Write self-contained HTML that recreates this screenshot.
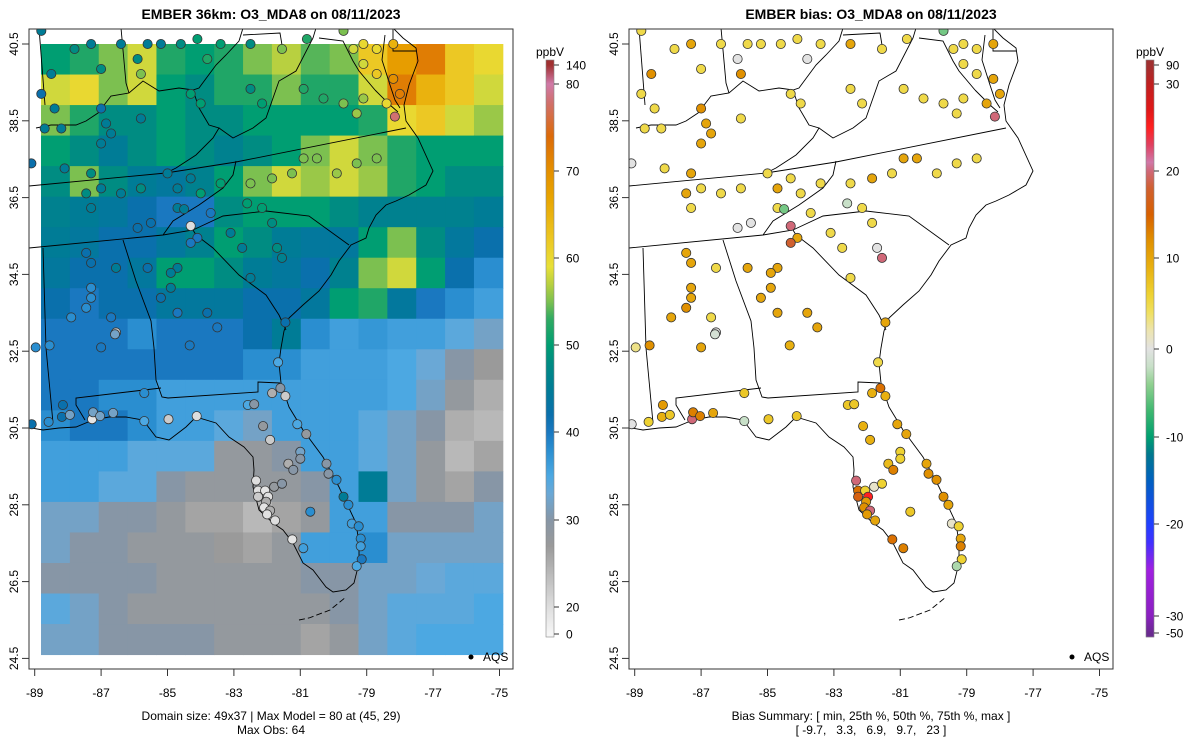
<!DOCTYPE html>
<html><head><meta charset="utf-8">
<style>
html,body{margin:0;padding:0;background:#fff;}
svg{display:block;font-family:"Liberation Sans",Arial,sans-serif;}
</style></head>
<body>
<svg id="chart" width="1200" height="750" viewBox="0 0 1200 750" xmlns="http://www.w3.org/2000/svg">
<defs>
<clipPath id="clipL"><rect x="29" y="29" width="484" height="640"/></clipPath>
<clipPath id="clipR"><rect x="629" y="29" width="484" height="640"/></clipPath>
<g id="geo" fill="none" stroke="#000" stroke-width="0.9">
<polyline points="993,28 1003,38 1016,48 1018,61 1009,85 1004,105 1006,121 1018,138 1033,171 1026,185 1009,195 996,201 986,205 976,215 969,228 966,238 951,245 939,261 931,275 919,291 903,305 889,318 884,331 881,348 879,363 881,383 889,407 903,430 923,457 939,487 956,523 959,543 959,563 954,583 946,590 933,592 926,587 913,570 903,563 893,543 883,530 873,523 859,510 853,487 854,470 853,457 844,447 829,437 816,423 796,417 786,427 769,440 756,437 743,420 726,417 709,417 693,420 676,427 659,428 643,430 626,427"/>
<polyline points="985,35 982,60 990,85 995,100 1000,108"/>
<polyline points="975,90 990,105 998,112"/>
<polyline points="899,620 909,618 930,610 946,597" stroke-dasharray="6,3"/>
<polyline points="629,186 766,173 836,162 1006,128"/>
<polyline points="629,248 763,235 793,230 823,216 866,211 909,216 949,245"/>
<polyline points="836,161 833,175 823,188 799,205 773,221 763,235"/>
<polyline points="793,230 796,235 813,248 839,275 866,295 879,315 886,330"/>
<polyline points="723,240 736,281 751,321 754,348 756,380 762,397 768,398 858,392 858,382 880,383"/>
<polyline points="685,420 676,405 676,398 761,388"/>
<polyline points="643,248 646,348 653,423"/>
<polyline points="639,28 645,105"/>
<polyline points="636,128 651,125 676,125 686,121 698,113 711,96 729,93 743,81 759,91 779,88 793,90 799,88 816,65 826,55 839,41 843,28"/>
<polyline points="721,28 726,83 729,93"/>
<polyline points="793,90 799,108 809,125 819,128 813,138 796,155 776,168 766,173"/>
<polyline points="819,128 833,138 853,128 866,118 879,81 896,71 913,38 916,28"/>
<polyline points="843,35 880,33 883,51"/>
<polyline points="919,38 943,41 953,61 959,71 975,90"/>
<polyline points="993,28 993,51 1016,51"/>
</g>
</defs>

<text x="271" y="19" text-anchor="middle" font-size="14" font-weight="bold">EMBER 36km: O3_MDA8 on 08/11/2023</text>
<text x="871" y="19" text-anchor="middle" font-size="14" font-weight="bold">EMBER bias: O3_MDA8 on 08/11/2023</text>

<g id="leftMap" clip-path="url(#clipL)"></g>
<g id="leftGeo" clip-path="url(#clipL)"><use href="#geo" transform="translate(-600,0)"/></g>
<g id="leftDots" clip-path="url(#clipL)"></g>
<rect x="29" y="29" width="484" height="640" fill="none" stroke="#333" stroke-width="1"/>

<g id="rightGeo" clip-path="url(#clipR)"><use href="#geo"/></g>
<g id="rightDots" clip-path="url(#clipR)"></g>
<rect x="629" y="29" width="484" height="640" fill="none" stroke="#333" stroke-width="1"/>

<g id="axes"></g>
<g id="bars"></g>

<circle cx="471" cy="657" r="2.5" fill="#000"/>
<text x="483" y="661" font-size="12">AQS</text>
<circle cx="1072" cy="657" r="2.5" fill="#000"/>
<text x="1084" y="661" font-size="12">AQS</text>

<text x="271" y="720" text-anchor="middle" font-size="12">Domain size: 49x37 | Max Model = 80 at (45, 29)</text>
<text x="271" y="734" text-anchor="middle" font-size="12">Max Obs: 64</text>
<text x="871" y="720" text-anchor="middle" font-size="12">Bias Summary: [ min, 25th %, 50th %, 75th %, max ]</text>
<text x="871" y="734" text-anchor="middle" font-size="12" xml:space="preserve">[ -9.7,   3.3,   6.9,   9.7,   23 ]</text>
</svg>
<script>
// ---- data ----
const gridRows = [
[50,52,55,58,52,50,52,55,57,54,55,62,68,72,62,60],
[58,60,55,58,50,48,52,52,55,52,52,58,72,65,62,58],
[55,52,48,48,50,48,48,50,50,50,50,52,60,62,58,56],
[50,48,45,48,50,48,46,48,50,55,58,55,52,50,50,50],
[48,55,48,45,44,46,50,55,58,56,58,56,52,50,48,48],
[46,45,44,42,40,40,48,50,50,50,48,46,46,46,46,45],
[45,44,42,42,44,46,50,48,45,44,44,50,55,48,44,42],
[44,42,42,44,50,50,48,45,44,42,46,55,58,50,42,38],
[42,40,42,42,44,44,44,42,42,44,50,52,44,40,38,36],
[40,40,40,38,40,40,40,42,45,38,36,37,36,36,34,32],
[40,40,40,40,40,40,40,38,38,36,36,36,35,33,30,27],
[40,40,38,38,36,36,36,36,36,36,36,36,35,32,28,25],
[38,40,40,38,36,36,34,32,36,36,36,34,32,30,25,24],
[36,36,36,34,34,34,28,28,30,36,36,34,32,28,24,26],
[36,36,34,34,30,28,28,28,28,30,36,45,32,28,26,30],
[32,32,30,30,28,26,26,24,26,28,36,36,30,30,30,32],
[32,30,30,28,28,28,27,26,28,36,36,38,32,32,32,32],
[30,30,30,30,28,28,28,28,28,30,30,32,32,33,34,34],
[34,32,30,28,28,28,28,28,28,28,30,32,34,34,34,35],
[32,32,30,30,30,30,28,28,28,26,28,32,34,35,35,35]
];
const gridLonRange = [-88.81, -74.9];
const gridLatRange = [40.5, 24.6];

const stLon = [-88.8,-87.8,-87.3,-87.0,-86.4,-85.9,-85.6,-85.8,-85.2,-84.6,-84.1,-83.8,-83.4,-82.5,-81.55,-80.8,-79.7,-79.4,-79.1,-78.7,-78.2,-79.1,-78.7,-78.2,-78.0,-78.4,-78.15,-88.5,-88.8,-88.4,-88.7,-88.2,-87.0,-86.85,-86.7,-87.0,-85.8,-84.3,-84.0,-82.5,-82.15,-80.9,-80.3,-79.7,-79.1,-79.3,
-89.1,-88.1,-87.3,-87.0,-86.4,-85.8,-85.0,-84.7,-84.3,-84.0,-83.4,-82.5,-81.85,-81.25,-80.9,-80.5,-79.9,-79.3,-78.7,-87.45,-87.3,-85.9,-85.5,-84.7,-84.5,-84.3,-84.1,-83.7,-83.1,-82.6,-82.15,-81.85,-81.7,-81.55,-82.75,-84.3,-84.7,
-87.45,-87.3,-86.55,-85.6,-84.9,-85.2,-84.9,-87.3,-87.3,-87.45,-87.9,-86.7,-86.55,-84.7,-83.8,-82.5,-81.45,-87.0,-83.5,
-80.21,-80.15,-79.91,-79.70,-79.55,-79.45,-79.24,-79.18,-79.18,-79.15,-79.3,
-80.7,-81.36,-81.21,-81.0,-81.0,-82.12,-81.91,-82.58,-82.39,-81.85,-81.6,-81.45,-81.09,-80.82,-81.67,
-82.33,-82.27,-82.27,-82.06,-81.97,-82.03,-82.09,-81.91,-82.0,-81.76,-81.79,-81.55,-81.24,-80.91,
-88.15,-88.18,-87.94,-87.27,-87.24,-87.03,-86.64,-85.7,-84.97,-84.12,-85.7,-88.58,-89.09,-88.55,-88.97,-86.58,-84.33];
const stLat = [40.84,40.37,40.5,39.85,40.5,40.11,40.5,39.72,40.5,40.5,40.63,40.11,40.5,40.5,40.37,40.63,40.84,40.37,40.5,40.37,40.5,39.98,39.72,39.59,39.2,38.95,38.61,39.72,39.2,38.82,38.3,38.3,38.82,38.43,38.17,37.91,38.56,39.2,38.95,39.33,38.95,39.33,39.08,38.95,39.08,38.69,
37.39,37.26,37.13,36.74,36.61,36.74,37.13,36.74,37.0,36.61,36.87,36.87,37.0,37.13,37.52,37.52,37.13,37.39,37.52,36.61,36.23,35.71,35.84,36.23,36.2,35.76,35.45,36.1,35.58,36.35,36.23,35.84,35.19,34.93,35.19,35.32,34.67,
35.06,34.8,34.67,34.67,34.54,33.89,34.15,34.15,33.89,33.63,33.38,33.38,32.99,33.5,33.5,34.41,33.25,32.6,33.12,
29.57,29.31,29.15,28.71,28.5,28.01,27.94,27.62,27.42,27.08,26.9,
28.32,29.57,29.41,29.88,29.7,30.55,30.19,31.1,31.12,31.41,31.54,31.33,30.6,30.34,32.21,
29.13,28.87,28.71,28.87,28.71,28.58,28.43,28.35,28.25,28.09,28.97,29.05,27.6,27.37,
31.1,30.79,30.84,30.73,30.91,30.81,30.89,30.68,30.73,30.81,31.41,30.66,30.6,32.65,32.6,32.94,32.65];
const stObs = [45,48,45,48,45,48,45,55,45,48,50,52,50,48,55,52,55,58,60,60,65,58,62,70,72,60,78,45,42,45,45,45,42,45,45,45,45,50,50,48,50,52,52,55,56,56,
42,45,48,45,45,48,45,45,45,50,50,55,55,55,55,55,56,55,55,48,45,42,42,45,45,20,40,40,45,50,50,48,48,46,45,40,45,
42,42,45,42,45,42,45,38,38,38,38,40,22,40,42,45,42,40,40,
30,30,38,45,38,36,38,38,36,40,35,
38,25,30,32,30,28,22,35,30,25,30,22,35,28,35,
20,18,22,15,18,25,15,25,18,20,28,30,15,36,
42,42,32,15,32,32,32,35,22,20,38,38,42,38,38,32,40];
const stBias = [5,5,10,5,5,0,5,12,5,5,5,0,5,10,5,5,-5,5,5,5,10,5,5,10,10,10,20,12,5,5,5,5,12,10,10,10,5,5,5,5,5,5,5,5,5,5,
0,5,10,5,5,5,5,10,5,5,5,5,10,5,10,10,5,5,5,10,5,0,0,5,-5,20,10,5,5,-2,5,5,0,20,5,18,10,
10,10,5,10,10,10,10,10,10,12,10,5,0,10,10,5,10,10,10,
10,12,12,12,10,1,6,10,13,6,-3,
7,8,13,6,6,9,9,7,7,9,14,9,10,10,5,
20,14,16,6,25,11,12,20,11,10,1,6,14,13,
11,9,7,20,13,13,10,-2,7,7,7,6,0,12,3,-1,9];

const latTicks = [24.5,26.5,28.5,30.5,32.5,34.5,36.5,38.5,40.5];
const lonTicks = [-89,-87,-85,-83,-81,-79,-77,-75];

const obsStops = [0,20,24,27,30,33,35,38,40,42,45,48,50,53,55,57,59,62,67,70,74,78,80,140];
const obsColors = ["#f6f6f6","#dedede","#b8b8b8","#9a9a9a","#8796a6","#6aa8d6","#4ca8e2","#2a8ed0","#1a78c0","#0a70ac","#007c96","#008c82","#009e72","#30aa62","#7cc050","#b8d040","#e8e038","#ecc824","#e8a400","#e49000","#dc6a08","#d07070","#d07aa8","#a03030"];
const biasStops = [-50,-30,-25,-22,-20,-15,-12,-10,-7,-4,-2,0,2,4,6,9,12,15,18,20,21,23,25,27,30,90];
const biasColors = ["#6a2a90","#8a20c0","#a020e0","#4030ff","#2040ff","#0060c0","#00788e","#00a070","#40b870","#90d090","#c8e0c8","#e2e2e2","#ece4b0","#f0e060","#eed232","#e8b010","#e09000","#d86000","#d06030","#d06878","#d078a8","#e04060","#ff2020","#e01818","#c02020","#a03030"];

const obsBarVals = [0,20,30,40,50,60,70,80,140];
const obsBarLabels = ["0","20","30","40","50","60","70","80","140"];
const biasBarVals = [-50,-30,-20,-10,0,10,20,30,90];
const biasBarLabels = ["-50","-30","-20","-10","0","10","20","30","90"];

// ---- scales ----
const NS = "http://www.w3.org/2000/svg";
function lonX(lon, off){ return off + 34.7 + (lon + 89) * 33.2; }
function latY(lat){ return 44 + (40.5 - lat) * 38.4; }
function hex2rgb(h){ return [parseInt(h.substr(1,2),16),parseInt(h.substr(3,2),16),parseInt(h.substr(5,2),16)]; }
function colorFor(v, stops, cols){
  if (v <= stops[0]) return cols[0];
  for (let i=1;i<stops.length;i++){
    if (v <= stops[i]){
      const t=(v-stops[i-1])/(stops[i]-stops[i-1]);
      const a=hex2rgb(cols[i-1]), b=hex2rgb(cols[i]);
      return "rgb("+a.map((c,k)=>Math.round(c+(b[k]-c)*t)).join(",")+")";
    }
  }
  return cols[cols.length-1];
}
// colorbar position scale: piecewise between tick values
function barScale(vals, ys){
  return function(v){
    if (v<=vals[0]) return ys[0];
    for (let i=1;i<vals.length;i++) if (v<=vals[i]) return ys[i-1]+(v-vals[i-1])/(vals[i]-vals[i-1])*(ys[i]-ys[i-1]);
    return ys[ys.length-1];
  };
}
const obsBarY = barScale(obsBarVals,[634,607,520,432,345,258,171,84,65]);
const biasBarY = barScale(biasBarVals,[633,616,524,437,349,258,171,84,65]);

function mk(tag, attrs, parent){
  const e=document.createElementNS(NS,tag);
  for (const k in attrs) e.setAttribute(k, attrs[k]);
  parent.appendChild(e); return e;
}

// ---- heatmap ----
const leftMap=document.getElementById("leftMap");
const nR=gridRows.length, nC=gridRows[0].length;
const dLon=(gridLonRange[1]-gridLonRange[0])/nC, dLat=(gridLatRange[0]-gridLatRange[1])/nR;
for (let r=0;r<nR;r++) for (let c=0;c<nC;c++){
  const x0=lonX(gridLonRange[0]+c*dLon,0), x1=lonX(gridLonRange[0]+(c+1)*dLon,0);
  const y0=latY(gridLatRange[0]-r*dLat), y1=latY(gridLatRange[0]-(r+1)*dLat);
  const cell=mk("rect",{x:x0.toFixed(2),y:y0.toFixed(2),width:(x1-x0+0.5).toFixed(2),height:(y1-y0+0.5).toFixed(2),fill:colorFor(gridRows[r][c],obsStops,obsColors)},leftMap);
  
  
}

// ---- stations ----
const leftDots=document.getElementById("leftDots"), rightDots=document.getElementById("rightDots");
for (let i=0;i<stLon.length;i++){
  const y=latY(stLat[i]);
  const a=mk("circle",{cx:lonX(stLon[i],0).toFixed(1),cy:y.toFixed(1),r:4.6,fill:colorFor(stObs[i],obsStops,obsColors),stroke:"#333","stroke-width":0.8},leftDots);
  
  
  const b=mk("circle",{cx:lonX(stLon[i],600).toFixed(1),cy:y.toFixed(1),r:4.6,fill:colorFor(stBias[i],biasStops,biasColors),stroke:"#333","stroke-width":0.8},rightDots);
  
  
}

// ---- axes ----
const axes=document.getElementById("axes");
[0,600].forEach(off=>{
  const bx=29+off;
  mk("line",{x1:lonX(lonTicks[0],off),x2:lonX(lonTicks[lonTicks.length-1],off),y1:669,y2:669,stroke:"#333"},axes);
  lonTicks.forEach(v=>{
    const x=lonX(v,off);
    mk("line",{x1:x,x2:x,y1:669,y2:676,stroke:"#333"},axes);
    const t=mk("text",{x:x,y:697,"text-anchor":"middle","font-size":12},axes);
    t.textContent=String(v);
    
    
  });
  latTicks.forEach(v=>{
    const y=latY(v);
    mk("line",{x1:bx,x2:bx-7,y1:y,y2:y,stroke:"#333"},axes);
    const t=mk("text",{x:bx-11,y:y,"text-anchor":"middle","font-size":12,transform:"rotate(-90 "+(bx-11)+" "+y+")"},axes);
    t.textContent=v.toFixed(1);
    
    
  });
});

// ---- colorbars ----
const bars=document.getElementById("bars");
function drawBar(x, scaleY, vals, labels, stops, cols, name){
  const yTop=60, yBot=637;
  const vmin=vals[0], vmax=vals[vals.length-1];
  for (let y=yTop;y<yBot;y+=1){
    // invert scale numerically
    let lo=vmin, hi=vmax;
    for (let k=0;k<30;k++){ const m=(lo+hi)/2; if (scaleY(m)>y+0.5) lo=m; else hi=m; }
    mk("rect",{x:x,y:y,width:8,height:1.2,fill:colorFor((lo+hi)/2,stops,cols)},bars);
  }
  const fr=mk("rect",{x:x,y:yTop,width:8,height:yBot-yTop,fill:"none",stroke:"#888","stroke-width":0.6},bars);
  
  
  vals.forEach((v,i)=>{
    const y=scaleY(v);
    mk("line",{x1:x+8,x2:x+13,y1:y,y2:y,stroke:"#333"},bars);
    const t=mk("text",{x:x+20,y:y+4.5,"font-size":12},bars);
    t.textContent=labels[i];
    
    
  });
  const u=mk("text",{x:x+4,y:56,"text-anchor":"middle","font-size":12},bars);
  u.textContent="ppbV";
  
  
}
drawBar(546, obsBarY, obsBarVals, obsBarLabels, obsStops, obsColors, "ozone-colorbar");
drawBar(1146, biasBarY, biasBarVals, biasBarLabels, biasStops, biasColors, "bias-colorbar");
</script>
</body></html>
